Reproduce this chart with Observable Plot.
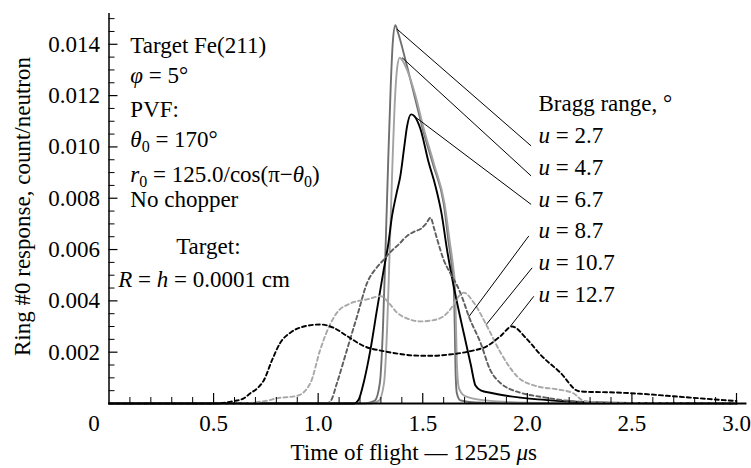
<!DOCTYPE html>
<html>
<head>
<meta charset="utf-8">
<script src="https://cdn.jsdelivr.net/npm/d3@7"></script>
<script src="https://cdn.jsdelivr.net/npm/@observablehq/plot@0.6"></script>
<style>
  body { margin: 0; background: #fff; }
  svg { display: block; }
  #chart svg, #chart svg text, #chart svg tspan { font-family: "Liberation Serif", "Times New Roman", serif !important; }
</style>
</head>
<body>
<div id="chart"></div>
<script>
// Ring #0 response vs time of flight for several Bragg ranges u (degrees)
const seriesU = ["2.7", "4.7", "6.7", "8.7", "10.7", "12.7"];

const t27 = [0, 1.22, 1.27, 1.295, 1.31, 1.322, 1.335, 1.347, 1.357, 1.369, 1.38, 1.42, 1.46, 1.50, 1.55, 1.60, 1.625, 1.64, 1.648, 1.653, 1.657, 1.663, 1.68, 1.75, 2.0, 3.0];
const r27 = [0, 0, 0.0001, 0.0008, 0.003, 0.006, 0.0095, 0.0124, 0.0141, 0.01474, 0.0145, 0.0133, 0.0120, 0.0107, 0.0093, 0.0078, 0.0062, 0.0053, 0.0046, 0.0030, 0.0012, 0.0004, 0.00012, 0.00004, 0, 0];

const t47 = [0, 1.25, 1.29, 1.315, 1.33, 1.342, 1.355, 1.368, 1.378, 1.39, 1.40, 1.425, 1.465, 1.505, 1.555, 1.604, 1.631, 1.646, 1.654, 1.659, 1.664, 1.673, 1.70, 1.80, 2.0, 2.3, 3.0];
const r47 = [0, 0, 0.0001, 0.0008, 0.003, 0.006, 0.0093, 0.0120, 0.0131, 0.01348, 0.0134, 0.0130, 0.0120, 0.0107, 0.0093, 0.0078, 0.0062, 0.0053, 0.0046, 0.0030, 0.0014, 0.0006, 0.0003, 0.00012, 0.00003, 0, 0];

const t67 = [0, 1.17, 1.194, 1.22, 1.25, 1.28, 1.313, 1.335, 1.353, 1.375, 1.393, 1.41, 1.425, 1.444, 1.46, 1.489, 1.528, 1.56, 1.59, 1.616, 1.64, 1.67, 1.70, 1.73, 1.752, 1.78, 1.823, 1.9, 1.967, 2.05, 2.158, 2.3, 2.5, 3.0];
const r67 = [0, 0, 0.00016, 0.0009, 0.0021, 0.0036, 0.0052, 0.0062, 0.0073, 0.0082, 0.00887, 0.0099, 0.0108, 0.01127, 0.0112, 0.0107, 0.0094, 0.0085, 0.0074, 0.0060, 0.0049, 0.0037, 0.0026, 0.0015, 0.0007, 0.0005, 0.00042, 0.0003, 0.00023, 0.00016, 0.0001, 0.00005, 0.00002, 0];

const t87 = [0, 1.04, 1.06, 1.09, 1.138, 1.186, 1.234, 1.28, 1.313, 1.345, 1.385, 1.425, 1.46, 1.489, 1.515, 1.537, 1.555, 1.569, 1.600, 1.63, 1.664, 1.69, 1.72, 1.776, 1.823, 1.871, 1.92, 1.967, 2.095, 2.2, 2.35, 3.0];
const r87 = [0, 0, 0.0001, 0.0008, 0.0021, 0.0034, 0.0047, 0.0053, 0.0056, 0.0059, 0.0062, 0.00653, 0.0067, 0.0068, 0.0070, 0.00724, 0.0068, 0.0064, 0.0056, 0.0051, 0.0046, 0.0041, 0.0034, 0.00237, 0.0013, 0.0008, 0.00055, 0.00042, 0.00022, 0.0001, 0.00003, 0];

const t107 = [0, 0.6, 0.75, 0.80, 0.90, 0.963, 1.01, 1.058, 1.09, 1.154, 1.234, 1.30, 1.34, 1.377, 1.43, 1.489, 1.569, 1.632, 1.665, 1.696, 1.744, 1.808, 1.871, 1.951, 2.047, 2.143, 2.22, 2.27, 2.4, 3.0];
const r107 = [0, 0, 0.0001, 0.0002, 0.0003, 0.0008, 0.0021, 0.0031, 0.00354, 0.0039, 0.00406, 0.00418, 0.0039, 0.00354, 0.0033, 0.0032, 0.00328, 0.00367, 0.0041, 0.00432, 0.00393, 0.0030, 0.0020, 0.00106, 0.00067, 0.00055, 0.0004, 0.0001, 0.00002, 0];

const t127 = [0, 0.50, 0.60, 0.644, 0.676, 0.71, 0.74, 0.78, 0.819, 0.867, 0.931, 1.01, 1.074, 1.138, 1.218, 1.313, 1.40, 1.457, 1.54, 1.616, 1.728, 1.808, 1.871, 1.927, 1.999, 2.063, 2.158, 2.246, 2.30, 2.38, 2.54, 2.70, 2.86, 2.94, 3.0];
const r127 = [0, 0, 0.0001, 0.0002, 0.0004, 0.0006, 0.0009, 0.0017, 0.00237, 0.00276, 0.0030, 0.00308, 0.00295, 0.00263, 0.00224, 0.00204, 0.00192, 0.00187, 0.00186, 0.0019, 0.00204, 0.00224, 0.00262, 0.0030, 0.0025, 0.0019, 0.0012, 0.00048, 0.00045, 0.00044, 0.00038, 0.00028, 0.00018, 0.00013, 0.0001];

const seriesT = [t27, t47, t67, t87, t107, t127];
const seriesR = [r27, r47, r67, r87, r107, r127];
const seriesColor = ["#6f6f6f", "#a3a3a3", "#000000", "#5e5e5e", "#a8a8a8", "#000000"];
const seriesDash = [null, null, null, "4,3", "4,3", "4,3"];

// axis ticks
const xTicks = [0, 0.5, 1.0, 1.5, 2.0, 2.5, 3.0];
const xMinor = d3.range(1, 30).map(i => i / 10).filter(v => Math.abs(v * 2 - Math.round(v * 2)) > 1e-9);
const yTicks = [0.002, 0.004, 0.006, 0.008, 0.010, 0.012, 0.014];
const yMinor = d3.range(1, 31).map(i => i * 0.0005).filter(v => Math.abs(v / 0.002 - Math.round(v / 0.002)) > 1e-9);
const xAxisEnd = 3.05;

// leader lines from each curve to its label
const leaderX1 = [1.377, 1.401, 1.457, 1.720, 1.804, 1.919];
const leaderY1 = [0.01459, 0.01348, 0.01121, 0.00338, 0.00308, 0.00301];
const leaderX2 = [2.018, 2.018, 2.018, 2.007, 2.023, 2.031];
const leaderY2 = [0.01004, 0.00887, 0.00776, 0.00653, 0.00529, 0.00418];

// legend block (right)
const braggX = 2.053;
const braggHeaderY = 0.0117;
const braggY = [0.01043, 0.0092, 0.00796, 0.00675, 0.0055, 0.00425];

// parameter notes (left); *..* italic, _{..} subscript
const noteLines = ["Target Fe(211)", "*φ* = 5°", "PVF:", "*θ*_{0} = 170°", "*r*_{0} = 125.0/cos(π−*θ*_{0})", "No chopper"];
const noteX = 0.102;
const noteY = [0.01394, 0.01277, 0.01147, 0.0103, 0.00893, 0.00796];
const targetHead = "Target:";
const targetHeadX = 0.475, targetHeadY = 0.00613;
const targetLine = "*R* = *h* = 0.0001 cm";
const targetLineX = 0.0445, targetLineY = 0.00484;

const xLabel = "Time of flight — 12525 *μ*s";
const yLabel = "Ring #0 response, count/neutron";

const W = 751, H = 468;
const mL = 108.5, mR = 15, mT = 13, mB = 65;
const frameW = W - mL - mR, frameH = H - mT - mB;
const FS = 23;
const FONT = "'Liberation Serif', 'Times New Roman', serif";

const lines = seriesU.map((u, i) => Plot.line(
  seriesT[i].map((t, j) => ({t, r: seriesR[i][j]})),
  {x: "t", y: "r", stroke: seriesColor[i], strokeWidth: 1.9, strokeDasharray: seriesDash[i], curve: "monotone-x"}
));

const leaders = seriesU.map((u, i) => ({x1: leaderX1[i], y1: leaderY1[i], x2: leaderX2[i], y2: leaderY2[i]}));

const txt = {fontSize: FS, fontFamily: FONT, fill: "#000"};

const chart = Plot.plot({
  width: W, height: H,
  marginLeft: mL, marginRight: mR, marginTop: mT, marginBottom: mB,
  style: {fontFamily: FONT, fontSize: FS + "px", background: "#fff", color: "#000"},
  x: {domain: [0, 3], axis: null},
  y: {domain: [0, 0.0152], axis: null},
  marks: [
    ...lines,
    Plot.link(leaders, {x1: "x1", y1: "y1", x2: "x2", y2: "y2", stroke: "#000", strokeWidth: 1}),
    // axes
    Plot.ruleX([0], {stroke: "#000", strokeWidth: 1.5}),
    Plot.ruleY([{y: 0, x1: 0, x2: xAxisEnd}], {y: "y", x1: "x1", x2: "x2", stroke: "#000", strokeWidth: 2}),
    Plot.tickX(xMinor, {x: d => d, insetTop: frameH - 6, stroke: "#000", strokeWidth: 1}),
    Plot.tickX(xTicks.filter(d => d > 0), {x: d => d, insetTop: frameH - 10, stroke: "#000", strokeWidth: 1.2}),
    Plot.tickY(yMinor, {y: d => d, insetRight: frameW - 6, stroke: "#000", strokeWidth: 1}),
    Plot.tickY(yTicks, {y: d => d, insetRight: frameW - 9, stroke: "#000", strokeWidth: 1.2}),
    Plot.text(xTicks.filter(d => d > 0), {x: d => d, frameAnchor: "bottom", lineAnchor: "middle", textAnchor: "middle", dy: 20, text: d => d.toFixed(1), ...txt}),
    Plot.text([0], {x: d => d, frameAnchor: "bottom", lineAnchor: "middle", textAnchor: "middle", dy: 20, dx: -15, text: d => "0", ...txt}),
    Plot.text(yTicks, {y: d => d, frameAnchor: "left", lineAnchor: "middle", dx: -9, textAnchor: "end", text: d => d.toFixed(3), ...txt}),
    Plot.text([xLabel], {frameAnchor: "bottom", lineAnchor: "middle", textAnchor: "middle", dy: 49, dx: -9, text: d => d, ...txt}),
    Plot.text([yLabel], {frameAnchor: "left", lineAnchor: "middle", textAnchor: "middle", dx: -86, dy: -2, rotate: -90, text: d => d, ...txt}),
    // annotations
    Plot.text(noteLines, {x: () => noteX, y: (d, i) => noteY[i], text: d => d, textAnchor: "start", ...txt}),
    Plot.text([targetHead], {x: () => targetHeadX, y: () => targetHeadY, text: d => d, textAnchor: "middle", ...txt}),
    Plot.text([targetLine], {x: () => targetLineX, y: () => targetLineY, text: d => d, textAnchor: "start", ...txt}),
    Plot.text(["Bragg range, °"], {x: () => braggX, y: () => braggHeaderY, text: d => d, textAnchor: "start", ...txt}),
    Plot.text(seriesU, {x: () => braggX, y: (d, i) => braggY[i], text: d => `*u* = ${d}`, textAnchor: "start", ...txt})
  ]
});

// turn the light markup (*italic*, _{subscript}) into tspans
const svgNS = "http://www.w3.org/2000/svg";
const SUB = 5;
chart.querySelectorAll("text").forEach(el => {
  el.setAttribute("font-family", FONT);
  const src = el.textContent;
  if (!/[*_]/.test(src)) return;
  while (el.firstChild) el.removeChild(el.firstChild);
  const re = /\*([^*]+)\*|_\{([^}]+)\}|([^*_]+)/g;
  let m, lowered = false;
  while ((m = re.exec(src))) {
    const t = document.createElementNS(svgNS, "tspan");
    if (m[2] !== undefined) {
      t.textContent = m[2];
      t.setAttribute("font-size", Math.round(FS * 0.7));
      t.setAttribute("dy", SUB);
      lowered = true;
    } else {
      t.textContent = m[1] !== undefined ? m[1] : m[3];
      if (m[1] !== undefined) t.setAttribute("font-style", "italic");
      if (lowered) { t.setAttribute("dy", -SUB); lowered = false; }
    }
    el.appendChild(t);
  }
});

document.getElementById("chart").appendChild(chart);
</script>
</body>
</html>
